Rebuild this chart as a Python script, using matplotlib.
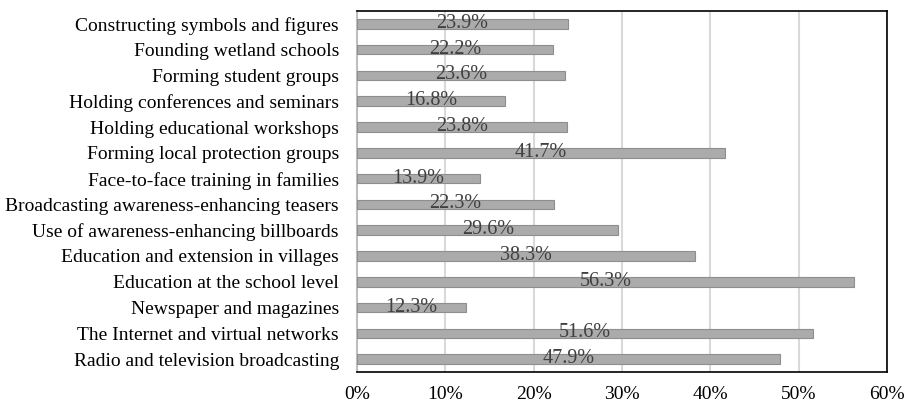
import matplotlib.pyplot as plt
import numpy as np

plt.rcParams['font.family'] = ['Liberation Serif', 'DejaVu Serif']

categories = [
    "Constructing symbols and figures",
    "Founding wetland schools",
    "Forming student groups",
    "Holding conferences and seminars",
    "Holding educational workshops",
    "Forming local protection groups",
    "Face-to-face training in families",
    "Broadcasting awareness-enhancing teasers",
    "Use of awareness-enhancing billboards",
    "Education and extension in villages",
    "Education at the school level",
    "Newspaper and magazines",
    "The Internet and virtual networks",
    "Radio and television broadcasting",
]
values = [23.9, 22.2, 23.6, 16.8, 23.8, 41.7, 13.9, 22.3, 29.6, 38.3, 56.3, 12.3, 51.6, 47.9]
xticks = [0, 10, 20, 30, 40, 50, 60]

fig = plt.figure(figsize=(9.09, 4.03), dpi=100)
ax = fig.add_axes([0.3927, 0.0769, 0.5831, 0.8958])

y = np.arange(len(categories))[::-1]
ax.barh(y, values, height=0.37, color='#ababab', edgecolor='#8e8e8e', linewidth=0.8, zorder=3)

for yi, v in zip(y, values):
    ax.text(v / 2, yi + 0.02, f"{v:.1f}%", ha='center', va='center',
            fontsize=14.5, color='#404040', zorder=4)

ax.set_xlim(0, 60)
ax.set_ylim(-0.5, len(categories) - 0.5)
ax.set_xticks(xticks)
ax.set_xticklabels([f"{t}%" for t in xticks])
ax.set_yticks(y)
ax.set_yticklabels(categories)
ax.tick_params(axis='both', length=0, labelsize=14)
ax.tick_params(axis='y', pad=13)
ax.tick_params(axis='x', pad=10)

ax.grid(axis='x', color='#d9d9d9', linewidth=1.5, zorder=0)
ax.set_axisbelow(True)
for side in ['top', 'right', 'bottom']:
    ax.spines[side].set_color('black')
    ax.spines[side].set_linewidth(1.2)
ax.spines['left'].set_color('#bfbfbf')
ax.spines['left'].set_linewidth(1.5)

fig.savefig('out.png', dpi=100)
